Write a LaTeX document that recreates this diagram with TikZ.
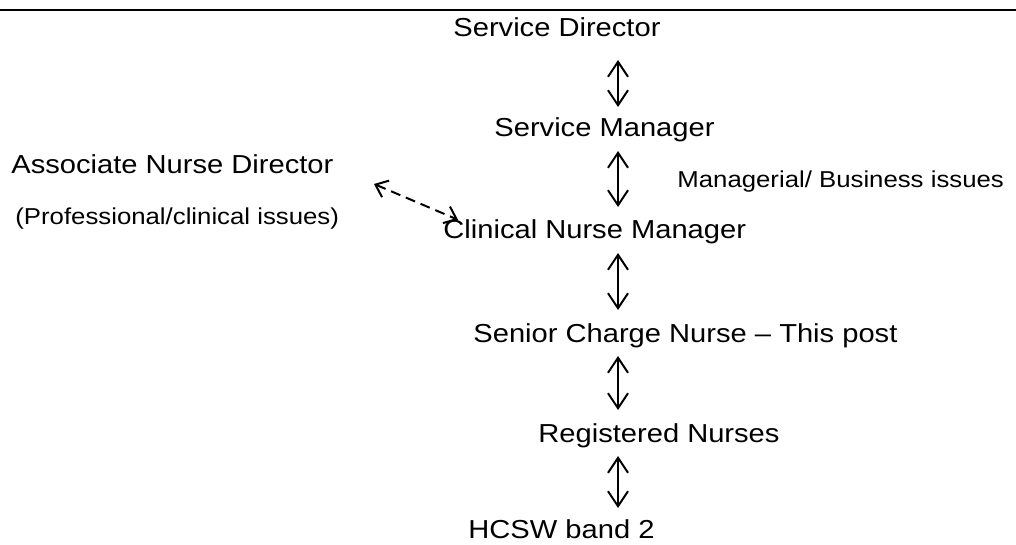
\documentclass[tikz,border=0pt]{standalone}
\usepackage{fontspec}
\setmainfont{Liberation Sans}[FakeStretch=1.12]
\usetikzlibrary{arrows.meta,calc}

\tikzstyle{post} = [inner sep=0pt, font=\fontsize{13pt}{15pt}\selectfont]
\tikzstyle{remark} = [inner sep=0pt, font=\fontsize{11.5pt}{13pt}\selectfont]
\tikzstyle{link} = [line width=1pt, {Straight Barb[length=7.5pt,width=10pt]}-{Straight Barb[length=7.5pt,width=10pt]}, shorten <=7pt, shorten >=16pt]
\tikzstyle{dashed link} = [line width=1pt, dashed, dash pattern=on 5pt off 3pt, {Straight Barb[length=5.5pt,width=9pt]}-{Straight Barb[length=5.5pt,width=9pt]}]

\begin{document}
\begin{tikzpicture}[x=0.5pt, y=-0.5pt]
	\useasboundingbox (0,0) rectangle (1016,545);
	\draw[line width=1pt] (0,10) -- (1016,10);

	\node [post, anchor=base west] (sd) at (453,37) {Service Director};
	\node [post, anchor=base west] (sm) at (494,137) {Service Manager};
	\node [post, anchor=base west] (and) at (11,174) {Associate Nurse Director};
	\node [remark, anchor=base west] (busy) at (677,188) {Managerial/ Business issues};
	\node [remark, anchor=base west] (prof) at (15,225) {(Professional/clinical issues)};
	\node [post, anchor=base west] (cnm) at (443,239) {Clinical Nurse Manager};
	\node [post, anchor=base west] (scn) at (473,342) {Senior Charge Nurse -- This post};
	\node [post, anchor=base west] (rn) at (538,442) {Registered Nurses};
	\node [post, anchor=base west] (hcsw) at (468,538) {HCSW band 2};

	\coordinate (spine) at (618,0);
	\draw [link, shorten <=11.5pt, shorten >=15pt] (sd.base -| spine) -- (sm.base -| spine);
	\draw [link] (sm.base -| spine) -- (cnm.base -| spine);
	\draw [link] (cnm.base -| spine) -- (scn.base -| spine);
	\draw [link] (scn.base -| spine) -- (rn.base -| spine);
	\draw [link, shorten >=15pt] (rn.base -| spine) -- (hcsw.base -| spine);

	\coordinate (andEnd) at (374,184);
	\coordinate (cnmEnd) at ($(cnm.north west)+(15,0)$);
	\draw [dashed link] (andEnd) -- (cnmEnd);
\end{tikzpicture}
\end{document}
